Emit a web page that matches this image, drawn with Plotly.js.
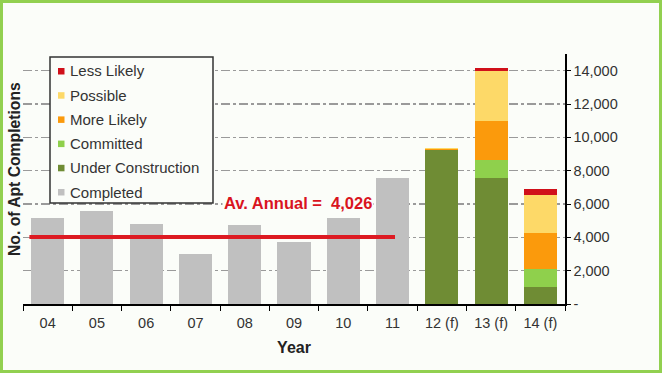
<!DOCTYPE html>
<html><head><meta charset="utf-8">
<script src="https://cdn.plot.ly/plotly-3.0.1.min.js"></script>
<style>
html,body{margin:0;padding:0;background:#fbfdf9;}
#wrap{position:relative;width:662px;height:373px;}
#chart{position:absolute;left:0;top:0;width:662px;height:373px;}
#frame{position:absolute;left:0;top:0;width:662px;height:373px;box-sizing:border-box;border:3px solid #92d050;pointer-events:none;}
</style></head>
<body><div id="wrap"><div id="chart"></div><div id="frame"></div></div>
<script>
const years = ["04","05","06","07","08","09","10","11","12 (f)","13 (f)","14 (f)"];
const completed         = [5150,5600,4820,3020,4720,3740,5150,7580,0,0,0];
const underConstruction = [0,0,0,0,0,0,0,0,9250,7580,1040];
const committed         = [0,0,0,0,0,0,0,0,0,1080,1040];
const moreLikely        = [0,0,0,0,0,0,0,0,40,2320,2200];
const possible          = [0,0,0,0,0,0,0,0,100,3000,2260];
const lessLikely        = [0,0,0,0,0,0,0,0,0,160,340];
const avgAnnual = 4026;
const yTickVals = [0,2000,4000,6000,8000,10000,12000,14000];
const yTickText = ["-","2,000","4,000","6,000","8,000","10,000","12,000","14,000"];

const FONT = "Liberation Sans, Arial, sans-serif";
const BG = "#fbfdf9";
const series = [
  {name:"Completed", y:completed, color:"#c0c0c0"},
  {name:"Under Construction", y:underConstruction, color:"#6f8c34"},
  {name:"Committed", y:committed, color:"#8fd04c"},
  {name:"More Likely", y:moreLikely, color:"#fb9a0c"},
  {name:"Possible", y:possible, color:"#fdd968"},
  {name:"Less Likely", y:lessLikely, color:"#d0101a"}
];
const traces = series.map(s => ({
  type:"bar", name:s.name, x:years, y:s.y,
  marker:{color:s.color, line:{width:0}}, hoverinfo:"x+y+name"
}));

// plot area geometry (pixels) used to place the hand-drawn legend box
const W = 662, H = 373, ML = 23, MR = 97, MT = 54, MB = 69;
const PW = W - ML - MR, PH = H - MT - MB;
const px = v => (v - ML) / PW;
const py = v => (H - MB - v) / PH;

const shapes = [{type:"line", xref:"x", yref:"y", x0:-0.37, x1:years.indexOf("11")+0.05,
  y0:avgAnnual, y1:avgAnnual, line:{color:"#dd1a22", width:4}}];
const annotations = [
  {xref:"paper", yref:"y", x:px(298), y:6050, xanchor:"center", yanchor:"middle",
   text:"<b>Av. Annual =  " + avgAnnual.toLocaleString("en-US") + "</b>",
   showarrow:false, bgcolor:BG, borderpad:1, font:{family:FONT, size:16.5, color:"#d9141e"}},
  {xref:"paper", yref:"paper", x:px(14), y:py(169), xanchor:"center", yanchor:"middle",
   text:"<b>No. of Apt Completions</b>", textangle:-90, showarrow:false,
   font:{family:FONT, size:15.7, color:"#222"}}
];
// legend box
shapes.push({type:"rect", xref:"paper", yref:"paper", x0:px(50), x1:px(213), y0:py(203), y1:py(57),
  line:{color:"#333", width:1.5}, fillcolor:BG, layer:"above"});
const legendOrder = series.slice().reverse();
legendOrder.forEach((s, i) => {
  const cy = 71 + i * 24.2;
  shapes.push({type:"rect", xref:"paper", yref:"paper", x0:px(58), x1:px(64.5), y0:py(cy+3.5), y1:py(cy-3),
    line:{width:0}, fillcolor:s.color, layer:"above"});
  annotations.push({xref:"paper", yref:"paper", x:px(68), y:py(cy), xanchor:"left", yanchor:"middle",
    text:s.name, showarrow:false, font:{family:FONT, size:15, color:"#333"}});
});

const layout = {
  width:W, height:H,
  paper_bgcolor:BG, plot_bgcolor:"rgba(0,0,0,0)",
  margin:{l:ML, r:MR, t:MT, b:MB},
  barmode:"stack", bargap:0.33,
  font:{family:FONT, size:13, color:"#333"},
  showlegend:false,
  xaxis:{type:"category", showline:true, linecolor:"#000", linewidth:1.5,
    ticks:"outside", tickson:"boundaries", ticklen:5, tickcolor:"#000",
    ticklabelstandoff:5,
    tickfont:{family:FONT, size:14.5, color:"#333"},
    title:{text:"<b>Year</b>", font:{family:FONT, size:16, color:"#222"}, standoff:12},
    showgrid:false, zeroline:false},
  yaxis:{side:"right", range:[0,15000], showline:true, linecolor:"#000", linewidth:1.5,
    ticks:"outside", ticklen:4, tickcolor:"#000",
    tickvals:yTickVals, ticktext:yTickText,
    tickfont:{family:FONT, size:14.5, color:"#333"},
    showgrid:true, gridcolor:"#9a9a9a", gridwidth:1.5, griddash:"dashdot",
    zeroline:false},
  shapes:shapes,
  annotations:annotations
};
Plotly.newPlot("chart", traces, layout, {displayModeBar:false, staticPlot:true});
</script></body></html>
